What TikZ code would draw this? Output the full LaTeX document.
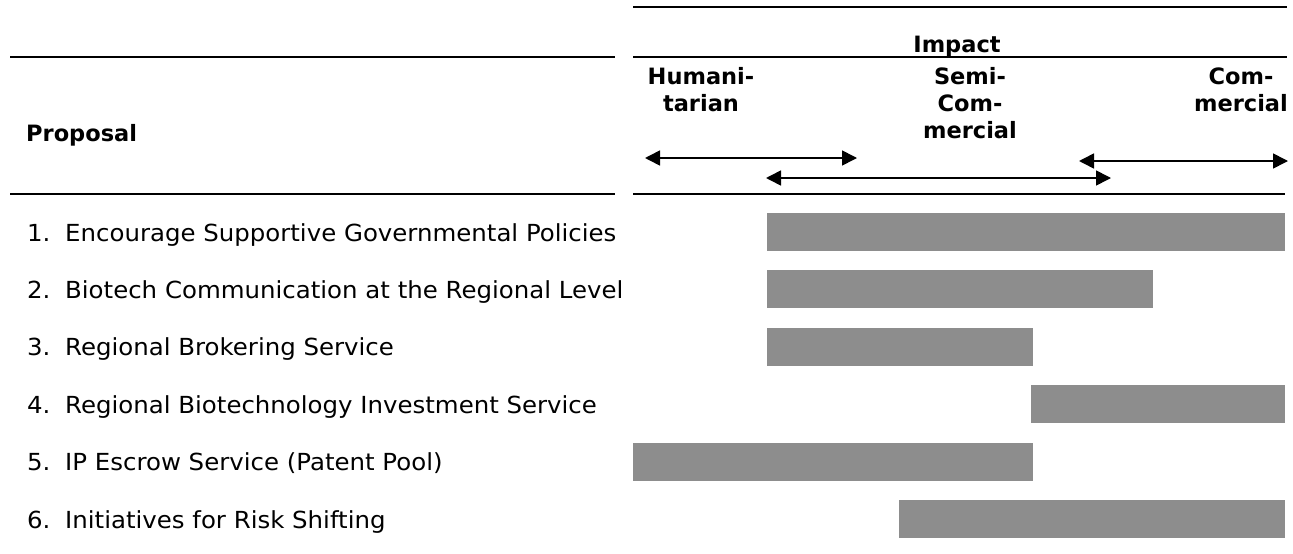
\documentclass[tikz,border=0pt]{standalone}
\usepackage{fontspec}
\setmainfont{DejaVu Sans}
\newfontfamily\itemfont[FakeStretch=1.04]{DejaVu Sans}
\usetikzlibrary{arrows.meta}
\definecolor{bargray}{RGB}{141,141,141}
\begin{document}
\begin{tikzpicture}[x=1pt,y=-1pt,
  rule/.style={line width=2pt},
  span/.style={line width=1.6pt,{Triangle[length=15pt,width=15pt]}-{Triangle[length=15pt,width=15pt]}},
  bar/.style={fill=bargray,draw=none},
  hdr/.style={font=\fontsize{22.5}{27}\selectfont\bfseries,inner sep=0pt,anchor=base},
  item/.style={font=\itemfont\fontsize{23.5}{27}\selectfont,inner sep=0pt,anchor=base west}]
\useasboundingbox (0,0) rectangle (1293,554);
% header rules
\draw[rule] (633,7) -- (1287,7);
\draw[rule] (10,57) -- (615,57);
\draw[rule] (633,57) -- (1287,57);
\draw[rule] (10,194) -- (615,194);
\draw[rule] (633,194) -- (1285,194);
% header texts
\node[hdr] (impact) at (957,52) {Impact};
\node[hdr,anchor=base west] (proposal) at (26,141) {Proposal};
\node[hdr] (hum1) at (701,84) {Humani-};
\node[hdr] (hum2) at (701,111) {tarian};
\node[hdr] (semi1) at (970,84) {Semi-};
\node[hdr] (semi2) at (970,111) {Com-};
\node[hdr] (semi3) at (970,138) {mercial};
\node[hdr] (com1) at (1241,84) {Com-};
\node[hdr] (com2) at (1241,111) {mercial};
% range arrows
\coordinate (ha) at (645,158); \coordinate (hb) at (857,158);
\coordinate (sa) at (766,178); \coordinate (sb) at (1111,178);
\coordinate (ca) at (1079,161); \coordinate (cb) at (1288,161);
\draw[span] (ha) -- (hb);
\draw[span] (sa) -- (sb);
\draw[span] (ca) -- (cb);
% items
\node[item] (p1) at (27,241) {\makebox[38pt][l]{1.}Encourage Supportive Governmental Policies};
\node[item] (p2) at (27,298.4) {\makebox[38pt][l]{2.}Biotech Communication at the Regional Level};
\node[item] (p3) at (27,355.8) {\makebox[38pt][l]{3.}Regional Brokering Service};
\node[item] (p4) at (27,413.2) {\makebox[38pt][l]{4.}Regional Biotechnology Investment Service};
\node[item] (p5) at (27,470.6) {\makebox[38pt][l]{5.}IP Escrow Service (Patent Pool)};
\node[item] (p6) at (27,528) {\makebox[38pt][l]{6.}Initiatives for Risk Shifting};
% bars
\fill[bar] (767,213) rectangle (1285,251);
\fill[bar] (767,270.4) rectangle (1153,308.4);
\fill[bar] (767,327.8) rectangle (1033,365.8);
\fill[bar] (1031,385.2) rectangle (1285,423.2);
\fill[bar] (633,442.6) rectangle (1033,480.6);
\fill[bar] (899,500) rectangle (1285,538);
\end{tikzpicture}
\end{document}
